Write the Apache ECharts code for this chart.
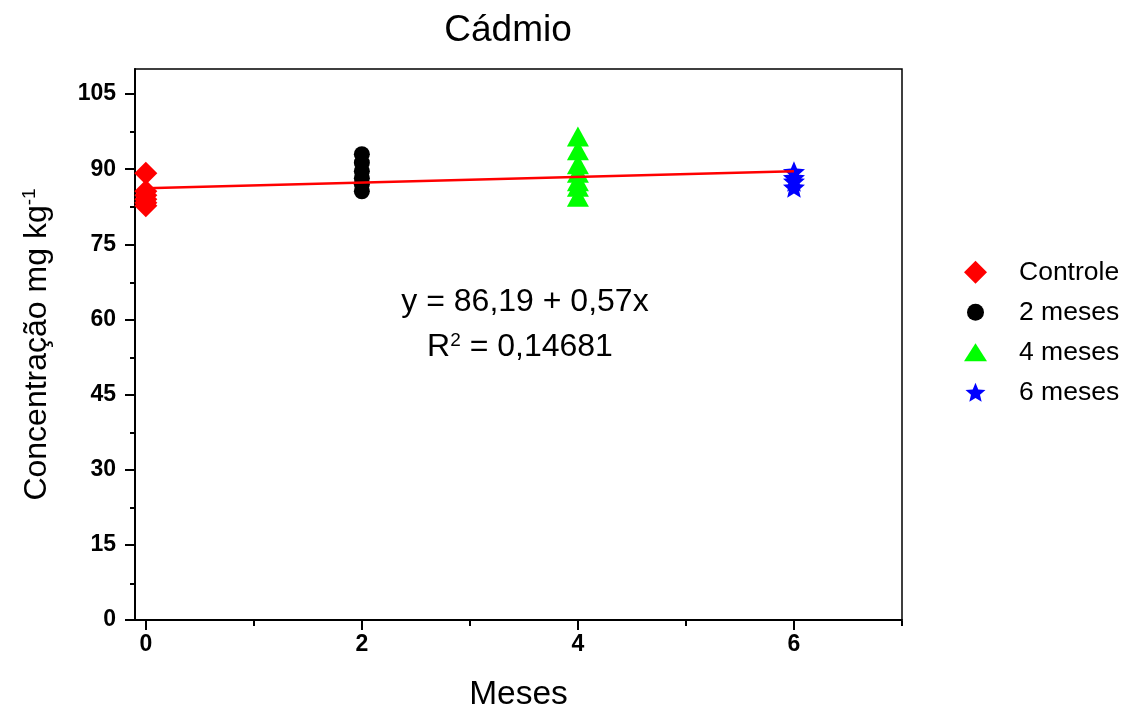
<!DOCTYPE html>
<html><head><meta charset="utf-8">
<script src="https://cdn.jsdelivr.net/npm/echarts@6/dist/echarts.min.js"></script>
<style>html,body{margin:0;padding:0;background:#fff}#c{width:1129px;height:717px}</style>
</head><body><div id="c"></div>
<script>
const seriesNames = ['Controle', '2 meses', '4 meses', '6 meses'];
const xMonths = [0, 2, 4, 6];
const controle = [89.2, 85.6, 84.8, 84.0, 83.3, 82.7];
const meses2 = [93.0, 91.3, 89.6, 88.2, 87.0, 85.6];
const meses4 = [96.5, 93.8, 91.0, 89.3, 87.6, 86.5, 84.5];
const meses6 = [89.5, 88.3, 87.6, 86.4];
const fitIntercept = 86.19;
const fitSlope = 0.57;
const fitX = [0, 6];
const yMajor = [0, 15, 30, 45, 60, 75, 90, 105];
const yMinor = [7.5, 22.5, 37.5, 52.5, 67.5, 82.5, 97.5];
const xMajor = [0, 2, 4, 6];
const xMinor = [1, 3, 5, 7];

const FONT = "'Liberation Sans', Arial, sans-serif";
const gridBox = {left: 135, right: 227, top: 69, bottom: 96};
const xMin = -0.1, xMax = 7, yMin = 0, yMax = 110;
const STAR = 'path://M0 -100 L26.45 -36.4 L95.1 -30.9 L42.8 13.9 L58.8 80.9 L0 45 L-58.8 80.9 L-42.8 13.9 L-95.1 -30.9 L-26.45 -36.4 Z';

const groups = [controle, meses2, meses4, meses6];
const symbols = ['diamond', 'circle', 'triangle', STAR];
const colors = ['#ff0000', '#000000', '#00ff00', '#0000ff'];
const sizes = [[23, 23], [16, 16], [22, 20], [22, 21]];
const legendSizes = [[23, 23], [17, 17], [23, 18], [20, 19]];
const legendRows = [272, 312, 352, 392];

const series = groups.map((vals, i) => ({
  name: seriesNames[i], type: 'scatter', xAxisIndex: 0, yAxisIndex: 0,
  symbol: symbols[i], symbolSize: sizes[i],
  itemStyle: {color: colors[i], opacity: 1},
  data: vals.map(v => [xMonths[i], v]), z: 3
}));
series.push({
  name: 'fit', type: 'line', xAxisIndex: 0, yAxisIndex: 0, symbol: 'none',
  lineStyle: {color: '#ff0000', width: 2.5}, z: 4, silent: true,
  data: fitX.map(x => [x, fitIntercept + fitSlope * x])
});

const LFS = 26.5;
const legends = seriesNames.map((n, i) => {
  const w = legendSizes[i][0], h = legendSizes[i][1];
  const left = 975.5 - w / 2;
  return {
    data: [n], orient: 'vertical', left: left, top: legendRows[i] - LFS / 2, padding: 0,
    itemWidth: w, itemHeight: h, selectedMode: false,
    textStyle: {fontFamily: FONT, fontSize: LFS, color: '#000', padding: [0, 0, 0, 1019 - (left + w + 5)]}
  };
});

const option = {
  backgroundColor: '#fff',
  animation: false,
  title: {text: 'Cádmio', left: 503, top: 7, textAlign: 'center',
    textStyle: {fontFamily: FONT, fontSize: 37, fontWeight: 'normal', color: '#000'}},
  legend: legends,
  grid: [
    Object.assign({show: true, borderColor: '#000', borderWidth: 1.5, backgroundColor: 'transparent'}, gridBox),
    Object.assign({show: false}, gridBox)
  ],
  xAxis: [
    {type: 'value', gridIndex: 0, min: xMin, max: xMax,
      name: 'Meses', nameLocation: 'middle', nameGap: 58,
      nameTextStyle: {fontFamily: FONT, fontSize: 33.5, color: '#000'},
      axisLine: {show: true, onZero: false, lineStyle: {color: '#000', width: 2}},
      axisTick: {show: true, customValues: xMajor, length: 10, lineStyle: {color: '#000', width: 2}},
      axisLabel: {customValues: xMajor, margin: 13, fontFamily: FONT, fontWeight: 'bold', fontSize: 23, color: '#000'},
      splitLine: {show: false}},
    {type: 'value', gridIndex: 1, min: xMin, max: xMax, position: 'bottom',
      axisLine: {show: false, onZero: false},
      axisTick: {show: true, customValues: xMinor, length: 5, lineStyle: {color: '#000', width: 2}},
      axisLabel: {show: false}, splitLine: {show: false}}
  ],
  yAxis: [
    {type: 'value', gridIndex: 0, min: yMin, max: yMax,
      name: '{a|Concentração mg kg}{s|-1}', nameLocation: 'middle', nameRotate: 90, nameGap: 80,
      nameTextStyle: {fontFamily: FONT, fontSize: 32, color: '#000',
        rich: {a: {fontFamily: FONT, fontSize: 32, color: '#000'},
               s: {fontFamily: FONT, fontSize: 19, color: '#000', verticalAlign: 'top', padding: [0, 0, 16, 0]}}},
      axisLine: {show: true, onZero: false, lineStyle: {color: '#000', width: 2}},
      axisTick: {show: true, customValues: yMajor, length: 10, lineStyle: {color: '#000', width: 2}},
      axisLabel: {customValues: yMajor, margin: 19, fontFamily: FONT, fontWeight: 'bold', fontSize: 23, color: '#000'},
      splitLine: {show: false}},
    {type: 'value', gridIndex: 1, min: yMin, max: yMax, position: 'left',
      axisLine: {show: false, onZero: false},
      axisTick: {show: true, customValues: yMinor, length: 5, lineStyle: {color: '#000', width: 2}},
      axisLabel: {show: false}, splitLine: {show: false}}
  ],
  graphic: [
    {type: 'text', x: 525, y: 302, silent: true, z: 10,
      style: {text: 'y = 86,19 + 0,57x', fontFamily: FONT, fontSize: 32, fill: '#000', align: 'center', verticalAlign: 'middle'}},
    {type: 'text', x: 520, y: 347, silent: true, z: 10,
      style: {text: '{a|R}{s|2}{a| = 0,14681}', align: 'center', verticalAlign: 'middle',
        rich: {a: {fontFamily: FONT, fontSize: 32, fill: '#000', color: '#000'},
               s: {fontFamily: FONT, fontSize: 19, fill: '#000', color: '#000', verticalAlign: 'top', padding: [0, 0, 12, 0]}}}}
  ],
  series: series
};

const chart = echarts.init(document.getElementById('c'), null, {renderer: 'canvas'});
chart.setOption(option);
</script>
</body></html>
